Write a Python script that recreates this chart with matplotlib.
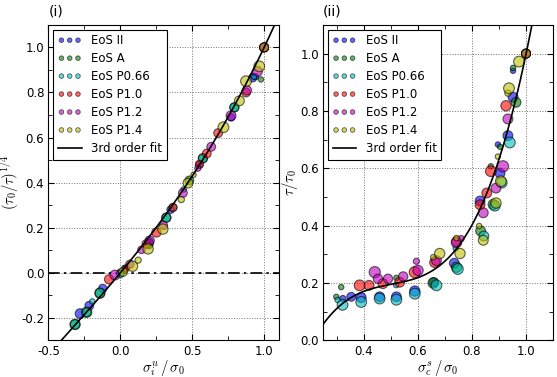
import numpy as np
import matplotlib
matplotlib.use('Agg')
import matplotlib.pyplot as plt
from matplotlib.ticker import MultipleLocator

plt.rcParams['axes.unicode_minus'] = False
plt.rcParams['mathtext.fontset'] = 'cm'
plt.rcParams['font.size'] = 8.5

labels = ['EoS II', 'EoS A', 'EoS P0.66', 'EoS P1.0', 'EoS P1.2', 'EoS P1.4']
colors = ['b', 'g', 'c', 'r', 'm', 'y']

# panel (i): sigma_i^u/sigma_0 vs (tau_0/tau)^(1/4), marker sizes
left_x = [
    [-0.28, -0.216, -0.123, 0.03, 0.2, 0.35, 0.55, 0.77, 0.92, 0.94, 1.0],
    [-0.315, -0.234, -0.142, 0.0, 0.2, 0.32, 0.48, 0.574, 0.793, 0.978, 1.0],
    [-0.315, -0.195, -0.234, -0.142, 0.0, 0.2, 0.32, 0.366, 0.574, 0.44, 0.793, 0.93, 1.0],
    [-0.078, 0.04, 0.181, 0.251, 0.366, 0.55, 0.601, 0.874, 0.68, 1.0],
    [-0.038, 0.066, 0.147, 0.204, 0.3, 0.435, 0.539, 0.632, 0.77, 0.88, 0.954, 1.0],
    [0.019, 0.085, 0.124, 0.193, 0.296, 0.424, 0.47, 0.509, 0.717, 0.828, 0.874, 0.966, 1.0],
]
left_y = [
    [-0.181, -0.146, -0.069, 0.02, 0.14, 0.28, 0.48, 0.69, 0.865, 0.87, 1.0],
    [-0.229, -0.175, -0.09, 0.0, 0.13, 0.245, 0.41, 0.508, 0.734, 0.858, 1.0],
    [-0.229, -0.127, -0.175, -0.09, -0.005, 0.12, 0.245, 0.29, 0.508, 0.37, 0.734, 0.87, 1.0],
    [-0.029, 0.02, 0.128, 0.179, 0.29, 0.481, 0.529, 0.8, 0.62, 1.0],
    [-0.01, 0.038, 0.102, 0.143, 0.21, 0.354, 0.464, 0.559, 0.697, 0.81, 0.894, 1.0],
    [0.004, 0.029, 0.056, 0.106, 0.194, 0.325, 0.398, 0.435, 0.646, 0.763, 0.85, 0.916, 1.0],
]
left_s = [
    [50, 40, 35, 20, 30, 30, 25, 30, 35, 20, 40],
    [55, 55, 55, 30, 40, 45, 40, 45, 45, 15, 40],
    [45, 15, 40, 45, 30, 20, 40, 30, 40, 15, 40, 15, 40],
    [45, 25, 40, 45, 35, 35, 40, 40, 40, 40],
    [50, 35, 30, 45, 35, 40, 20, 40, 50, 45, 50, 40],
    [40, 55, 20, 55, 55, 20, 50, 15, 60, 50, 60, 60, 40],
]

# panel (ii): sigma_c^s/sigma_0 vs tau/tau_0
right_x = [
    [0.323, 0.354, 0.391, 0.459, 0.521, 0.589, 0.659, 0.735, 0.83, 0.904, 0.896, 0.933, 0.952, 0.952, 1.0],
    [0.299, 0.317, 0.521, 0.657, 0.743, 0.832, 0.879, 0.87, 0.904, 0.963, 0.952, 1.0],
    [0.304, 0.322, 0.391, 0.459, 0.521, 0.589, 0.52, 0.669, 0.748, 0.74, 0.844, 0.885, 0.91, 0.94, 1.0],
    [0.385, 0.42, 0.471, 0.533, 0.589, 0.663, 0.743, 0.83, 0.855, 0.87, 0.926, 1.0],
    [0.441, 0.453, 0.49, 0.546, 0.595, 0.601, 0.669, 0.743, 0.76, 0.842, 0.889, 0.915, 0.933, 1.0],
    [0.657, 0.681, 0.756, 0.743, 0.827, 0.842, 0.889, 0.907, 0.896, 0.933, 0.937, 0.974, 1.0],
]
right_y = [
    [0.146, 0.152, 0.149, 0.152, 0.152, 0.172, 0.203, 0.269, 0.486, 0.583, 0.683, 0.714, 0.848, 0.94, 1.0],
    [0.152, 0.186, 0.218, 0.2, 0.255, 0.382, 0.474, 0.607, 0.675, 0.83, 0.95, 1.0],
    [0.141, 0.124, 0.134, 0.146, 0.142, 0.163, 0.193, 0.192, 0.249, 0.321, 0.364, 0.469, 0.55, 0.69, 1.0],
    [0.192, 0.192, 0.198, 0.203, 0.238, 0.272, 0.345, 0.473, 0.514, 0.59, 0.818, 1.0],
    [0.238, 0.215, 0.215, 0.223, 0.276, 0.244, 0.278, 0.341, 0.355, 0.445, 0.531, 0.607, 0.772, 1.0],
    [0.29, 0.303, 0.303, 0.357, 0.399, 0.349, 0.479, 0.555, 0.641, 0.862, 0.879, 0.972, 1.0],
]
right_s = [
    [20, 40, 50, 50, 50, 55, 45, 50, 50, 50, 15, 50, 50, 15, 40],
    [15, 15, 15, 55, 55, 50, 55, 15, 15, 50, 15, 40],
    [15, 60, 60, 60, 60, 60, 15, 60, 60, 15, 50, 55, 60, 60, 40],
    [60, 50, 50, 50, 65, 55, 50, 50, 50, 60, 55, 40],
    [65, 45, 45, 45, 20, 55, 50, 55, 20, 50, 50, 65, 50, 40],
    [15, 55, 55, 15, 15, 50, 55, 60, 15, 20, 60, 60, 40],
]

# 3rd order fit coefficients (highest power first)
fit_left = [0.103, 0.130, 0.767, 0.0]
fit_right = [5.8, 0.82, 0.22, 0.205]   # in (x - 0.55)
fit_right_x0 = 0.55

fig = plt.figure(figsize=(5.57, 3.77), dpi=100)
ax1 = fig.add_axes([0.087, 0.097, 0.413, 0.837])
ax2 = fig.add_axes([0.58, 0.097, 0.413, 0.837])


def style(ax):
    ax.tick_params(which='both', direction='in', top=True, right=True, pad=3)
    ax.tick_params(which='major', length=4)
    ax.tick_params(which='minor', length=3)
    ax.grid(True, which='major', color='0.45', linestyle=':', linewidth=0.7)
    ax.set_axisbelow(True)


for i in range(6):
    ax1.scatter(left_x[i], left_y[i], s=left_s[i], c=colors[i], alpha=0.6,
                edgecolors='k', linewidths=0.8, zorder=3)
    ax1.scatter([], [], s=11, c=colors[i], alpha=0.6, edgecolors='k',
                linewidths=0.6, label=labels[i])
    ax2.scatter(right_x[i], right_y[i], s=right_s[i], c=colors[i], alpha=0.6,
                edgecolors='k', linewidths=0.8, zorder=3)
    ax2.scatter([], [], s=11, c=colors[i], alpha=0.6, edgecolors='k',
                linewidths=0.6, label=labels[i])

xx = np.linspace(-0.5, 1.1, 300)
ax1.plot(xx, np.polyval(fit_left, xx), 'k-', lw=1.2, label='3rd order fit', zorder=4)
ax1.axhline(0, color='k', lw=1.2, dashes=(7, 2.5, 1.5, 2.5), zorder=2)

xx2 = np.linspace(0.25, 1.1, 300)
ax2.plot(xx2, np.polyval(fit_right, xx2 - fit_right_x0), 'k-', lw=1.2,
         label='3rd order fit', zorder=4)

ax1.set_xlim(-0.5, 1.1)
ax1.set_ylim(-0.3, 1.1)
ax1.xaxis.set_major_locator(MultipleLocator(0.5))
ax1.xaxis.set_minor_locator(MultipleLocator(0.25))
ax1.yaxis.set_major_locator(MultipleLocator(0.2))
ax1.yaxis.set_minor_locator(MultipleLocator(0.1))
ax1.set_xlabel(r'$\sigma_i^u\,/\,\sigma_0$', fontsize=10.5, labelpad=0)
ax1.set_ylabel(r'$(\tau_0/\tau)^{1/4}$', fontsize=10.5, labelpad=0)
ax1.set_title('(i)', loc='left', fontsize=10, pad=7)
style(ax1)

ax2.set_xlim(0.25, 1.1)
ax2.set_ylim(0, 1.1)
ax2.xaxis.set_major_locator(MultipleLocator(0.2))
ax2.xaxis.set_minor_locator(MultipleLocator(0.1))
ax2.yaxis.set_major_locator(MultipleLocator(0.2))
ax2.yaxis.set_minor_locator(MultipleLocator(0.1))
ax2.set_xlabel(r'$\sigma_c^s\,/\,\sigma_0$', fontsize=10.5, labelpad=0)
ax2.set_ylabel(r'$\tau/\tau_0$', fontsize=10.5, labelpad=0)
ax2.set_title('(ii)', loc='left', fontsize=10, pad=7)
style(ax2)

for ax in (ax1, ax2):
    leg = ax.legend(loc='upper left', scatterpoints=3, scatteryoffsets=[0.5],
                    fontsize=8.5, fancybox=False, edgecolor='k', framealpha=1,
                    borderaxespad=0.4, handlelength=2.0, labelspacing=0.42)
    leg.get_frame().set_linewidth(0.8)

plt.savefig('out.png', dpi=100)
plt.close()
